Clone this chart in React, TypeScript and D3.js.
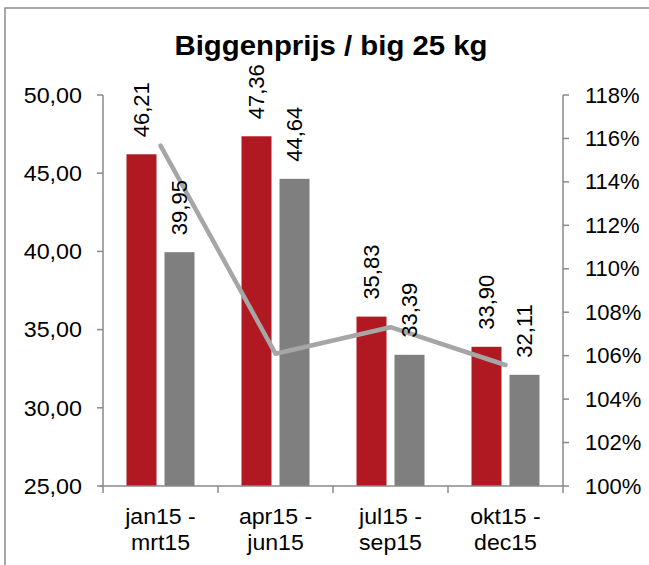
import React from "react";
import * as d3 from "d3";

const categories = [["jan15 -", "mrt15"], ["apr15 -", "jun15"], ["jul15 -", "sep15"], ["okt15 -", "dec15"]];
const seriesRed = [46.21, 47.36, 35.83, 33.9];
const seriesGray = [39.95, 44.64, 33.39, 32.11];
const ratioLine = [115.67, 106.09, 107.31, 105.57];
const leftTicks = [25, 30, 35, 40, 45, 50];
const rightTicks = [100, 102, 104, 106, 108, 110, 112, 114, 116, 118];
const title = "Biggenprijs / big 25 kg";

const W = 649, H = 565;
const left = 103, right = 563, top = 95, bottom = 486;
const axisColor = "#898989";
const red = "#b01921";
const gray = "#7f7f7f";
const lineColor = "#a6a6a6";
const font = "'Liberation Sans', Arial, sans-serif";

const fmt = (v: number) => v.toFixed(2).replace(".", ",");

export default function App() {
  const idx = categories.map((_, i) => String(i));
  const x = d3.scaleBand<string>().domain(idx).range([left, right]).paddingInner(0).paddingOuter(0);
  const yL = d3.scaleLinear().domain([25, 50]).range([bottom, top]);
  const yR = d3.scaleLinear().domain([100, 118]).range([bottom, top]);
  const bw = 30, gap = 8;
  const line = d3.line<number>()
    .x((_, i) => x(String(i))! + x.bandwidth() / 2)
    .y((d) => yR(d));

  return (
    <div style={{ position: "absolute", left: 0, top: 0 }}>
      <svg width={W} height={H} style={{ display: "block", background: "#fff" }} fontFamily={font}>
        <rect x={5} y={8} width={W + 10} height={H + 10} fill="#fff" stroke="#8c8c8c" strokeWidth={1.5} />
        <text transform="translate(331,55) scale(1.03,1)" textAnchor="middle" fontSize={28.5} fontWeight="bold" fill="#000">{title}</text>

        {/* bars */}
        {seriesRed.map((v, i) => {
          const c = x(String(i))! + x.bandwidth() / 2;
          return <rect key={"r" + i} x={c - gap / 2 - bw} y={yL(v)} width={bw} height={yL(25) - yL(v)} fill={red} />;
        })}
        {seriesGray.map((v, i) => {
          const c = x(String(i))! + x.bandwidth() / 2;
          return <rect key={"g" + i} x={c + gap / 2} y={yL(v)} width={bw} height={yL(25) - yL(v)} fill={gray} />;
        })}

        {/* axes */}
        <line x1={left} x2={left} y1={top} y2={bottom} stroke={axisColor} strokeWidth={1.5} />
        <line x1={right} x2={right} y1={top} y2={bottom} stroke={axisColor} strokeWidth={1.5} />
        <line x1={left - 3} x2={right} y1={bottom} y2={bottom} stroke={axisColor} strokeWidth={1.5} />
        {leftTicks.map((t) => (
          <g key={"lt" + t}>
            <line x1={left - 6} x2={left} y1={yL(t)} y2={yL(t)} stroke={axisColor} strokeWidth={1.5} />
            <text transform={`translate(82,${yL(t)}) scale(1.06,1)`} textAnchor="end" dominantBaseline="central" fontSize={22} fill="#000">{fmt(t)}</text>
          </g>
        ))}
        {rightTicks.map((t) => (
          <g key={"rt" + t}>
            <line x1={right} x2={right + 6} y1={yR(t)} y2={yR(t)} stroke={axisColor} strokeWidth={1.5} />
            <text x={585} y={yR(t)} textAnchor="start" dominantBaseline="central" fontSize={22} fill="#000">{t}%</text>
          </g>
        ))}
        {idx.concat([String(idx.length)]).map((k, i) => {
          const xx = i < idx.length ? x(k)! : right;
          return <line key={"bt" + i} x1={xx} x2={xx} y1={bottom} y2={bottom + 7} stroke={axisColor} strokeWidth={1.5} />;
        })}
        {categories.map((c, i) => {
          const cx = x(String(i))! + x.bandwidth() / 2;
          return (
            <g key={"cl" + i} transform={`translate(${cx},0) scale(1.05,1)`}>
              <text x={0} textAnchor="middle" fontSize={22} fill="#000">
                <tspan x={0} y={524}>{c[0]}</tspan>
                <tspan x={0} y={550}>{c[1]}</tspan>
              </text>
            </g>
          );
        })}

        {/* line */}
        <path d={line(ratioLine)!} fill="none" stroke={lineColor} strokeWidth={4.5} strokeLinejoin="round" strokeLinecap="round" />

        {/* data labels */}
        {seriesRed.map((v, i) => {
          const cx = x(String(i))! + x.bandwidth() / 2 - gap / 2 - bw / 2;
          return (
            <text key={"rl" + i} transform={`translate(${cx},${yL(v) - 17}) rotate(-90)`} textAnchor="start" dominantBaseline="central" fontSize={22} fill="#000">{fmt(v)}</text>
          );
        })}
        {seriesGray.map((v, i) => {
          const cx = x(String(i))! + x.bandwidth() / 2 + gap / 2 + bw / 2;
          return (
            <text key={"gl" + i} transform={`translate(${cx},${yL(v) - 17}) rotate(-90)`} textAnchor="start" dominantBaseline="central" fontSize={22} fill="#000">{fmt(v)}</text>
          );
        })}
      </svg>
    </div>
  );
}
